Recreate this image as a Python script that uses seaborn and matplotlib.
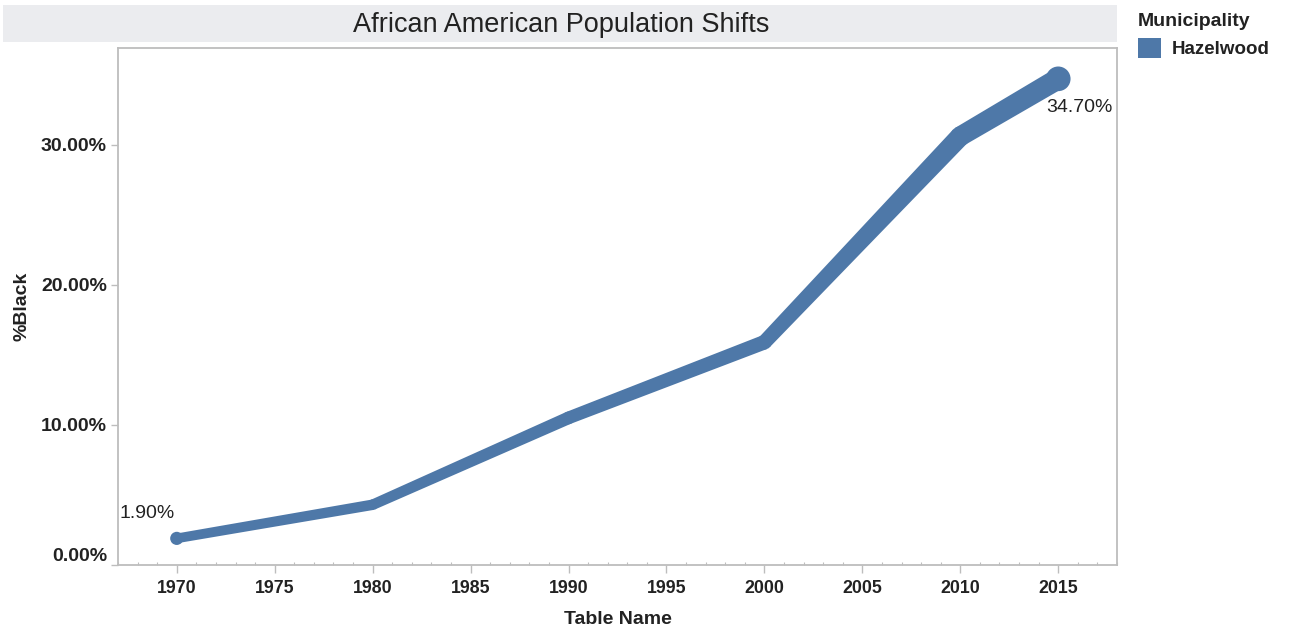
import matplotlib
matplotlib.use("Agg")
import matplotlib.pyplot as plt
from matplotlib.patches import Rectangle, Patch
from matplotlib.ticker import FuncFormatter, MultipleLocator
import numpy as np
import seaborn as sns
import pandas as pd

# Share of Black residents in Hazelwood by census table year
years = [1970, 1980, 1990, 2000, 2010, 2015]
pct_black = [1.9, 4.3, 10.5, 15.9, 30.6, 34.7]
municipality = "Hazelwood"
labeled_years = [1970, 2015]

BLUE = "#4E78A8"
GRID_GRAY = "#BDBDBD"
TEXT = "#222222"

sns.set_theme(style="white")
plt.rcParams["font.family"] = ["Liberation Sans", "DejaVu Sans"]

df = pd.DataFrame({"year": years, "pct": pct_black})

fig = plt.figure(figsize=(12.9, 6.3), dpi=100)
ax = fig.add_axes([118 / 1290, 65 / 630, 999 / 1290, 517 / 630])
ax.set_xlim(1967, 2018)
ax.set_ylim(0, 36.9)


def width_px(v):
    # stroke thickness in pixels grows with the value (size encoding)
    return 9.0 + 0.35 * v


# tapered band between consecutive points, built in display space
xy_disp = ax.transData.transform(df[["year", "pct"]].to_numpy(dtype=float))
widths = np.array([width_px(v) for v in df["pct"]])
inv = ax.transData.inverted()
for i in range(len(df) - 1):
    p0, p1 = xy_disp[i], xy_disp[i + 1]
    d = (p1 - p0) / np.hypot(*(p1 - p0))
    n = np.array([-d[1], d[0]])
    quad = np.array([p0 + n * widths[i] / 2, p1 + n * widths[i + 1] / 2,
                     p1 - n * widths[i + 1] / 2, p0 - n * widths[i] / 2])
    q = inv.transform(quad)
    ax.fill(q[:, 0], q[:, 1], color=BLUE, linewidth=0, zorder=3)

# round joints at every point, larger dots at the labeled ends
dot_px = [w + (3.5 if y in labeled_years else 0.0) for y, w in zip(df["year"], widths)]
sns.scatterplot(data=df, x="year", y="pct", ax=ax, color=BLUE,
                s=[(w * 0.72) ** 2 for w in dot_px],
                linewidth=0, legend=False, zorder=4)

ends = df[df["year"].isin(labeled_years)]
offsets = {1970: (-21, 18), 2015: (15, -21)}
for _, r in ends.iterrows():
    dx, dy = offsets[int(r["year"])]
    ax.annotate(f"{r['pct']:.2f}%", (r["year"], r["pct"]), xytext=(dx, dy),
                textcoords="offset points", ha="center", va="center",
                fontsize=14, color=TEXT)

ax.xaxis.set_major_locator(MultipleLocator(5))
ax.xaxis.set_minor_locator(MultipleLocator(1))
ax.set_yticks([0, 10, 20, 30])
ax.yaxis.set_major_formatter(FuncFormatter(lambda v, p: f"{v:.2f}%"))
ax.set_xlabel("")
ax.set_ylabel("")

for side in ["left", "right", "top", "bottom"]:
    ax.spines[side].set_visible(True)
    ax.spines[side].set_color(GRID_GRAY)
    ax.spines[side].set_linewidth(1.3)

ax.tick_params(axis="x", which="major", direction="out", length=6, width=1,
               color=GRID_GRAY, labelsize=12.8, labelcolor=TEXT, pad=5, bottom=True)
ax.tick_params(axis="x", which="minor", direction="in", length=2.5, width=0.8,
               color=GRID_GRAY, bottom=True)
ax.tick_params(axis="y", which="major", direction="out", length=5, width=1,
               color=GRID_GRAY, labelsize=14, labelcolor=TEXT, pad=3, left=True)
for lab in ax.get_xticklabels() + ax.get_yticklabels():
    lab.set_fontweight("bold")
ax.get_yticklabels()[0].set_verticalalignment("bottom")

ax.set_xlabel("Table Name", fontsize=14, fontweight="bold", color=TEXT, labelpad=10)
ax.set_ylabel("%Black", fontsize=14, fontweight="bold", color=TEXT)
ax.yaxis.set_label_coords(-0.088, 0.5)

# title banner across the top of the view
fig.patches.append(Rectangle((3 / 1290, 1 - 42 / 630), 1114 / 1290, 37 / 630,
                             transform=fig.transFigure, facecolor="#EBECEF",
                             edgecolor="none", zorder=0))
fig.text(561 / 1290, 1 - 25.5 / 630, "African American Population Shifts",
         ha="center", va="center", fontsize=19.5, color=TEXT)

leg = fig.legend(handles=[Patch(facecolor=BLUE, edgecolor="none", label=municipality)],
                 title="Municipality", loc="upper left",
                 bbox_to_anchor=(1134 / 1290, 1 - 9 / 630), frameon=False,
                 fontsize=13.5, title_fontproperties={"weight": "bold", "size": 14},
                 handlelength=1.25, handleheight=1.25, handletextpad=0.55,
                 borderaxespad=0, borderpad=0.2, labelspacing=0.3)
leg._legend_box.align = "left"
leg._legend_box.sep = 6
for t in leg.get_texts():
    t.set_fontweight("bold")
    t.set_color(TEXT)
leg.get_title().set_color(TEXT)

fig.savefig("out.png", dpi=100)
